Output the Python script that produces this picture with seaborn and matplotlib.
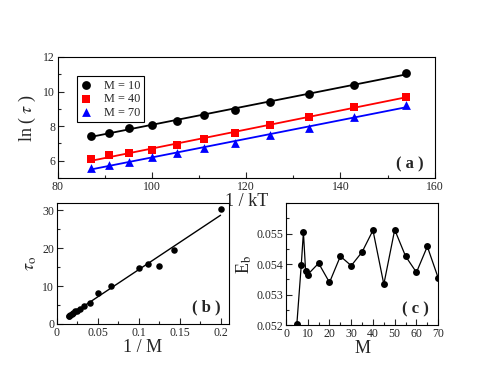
import numpy as np
import pandas as pd
import matplotlib
matplotlib.use('Agg')
import matplotlib.pyplot as plt
from matplotlib.ticker import MultipleLocator
import seaborn as sns

# Panel (a): ln(tau) vs 1/kT
inv_kT = [87.0, 90.9, 95.2, 100.0, 105.3, 111.1, 117.6, 125.0, 133.3, 142.9, 153.8]
ln_tau_m10 = [7.42, 7.62, 7.88, 8.08, 8.29, 8.63, 8.96, 9.42, 9.85, 10.37, 11.08]
ln_tau_m40 = [6.08, 6.31, 6.46, 6.63, 6.90, 7.23, 7.62, 8.08, 8.54, 9.10, 9.71]
ln_tau_m70 = [5.58, 5.77, 5.94, 6.21, 6.44, 6.73, 7.04, 7.46, 7.88, 8.54, 9.23]

# Panels (b) and (c)
M = [5, 7, 8, 9, 10, 15, 20, 25, 30, 35, 40, 45, 50, 55, 60, 65, 70]
tau0 = [30.4, 19.5, 15.4, 15.9, 14.9, 9.9, 8.3, 5.6, 4.7, 4.0, 3.5, 3.4,
        2.8, 2.5, 2.3, 2.2, 2.1]
E_b = [0.05205, 0.05396, 0.05505, 0.05379, 0.05366, 0.05403, 0.05340, 0.05426,
       0.05395, 0.05440, 0.05511, 0.05334, 0.05513, 0.05426, 0.05373, 0.05458,
       0.05355]

sns.set_style('ticks', {'xtick.direction': 'in', 'ytick.direction': 'in'})
plt.rcParams['font.family'] = ['Liberation Serif', 'DejaVu Serif']
plt.rcParams['mathtext.fontset'] = 'stix'
plt.rcParams['axes.linewidth'] = 0.8


def style_axis(ax):
    ax.tick_params(which='major', length=4, width=0.8, labelsize=8.5, pad=2)
    ax.tick_params(which='minor', length=2, width=0.8)
    for s in ax.spines.values():
        s.set_visible(True)
        s.set_color('black')


fig = plt.figure(figsize=(4.94, 3.82), dpi=100)

# (a)
ax_a = fig.add_axes([0.117, 0.534, 0.763, 0.317])
series = [(ln_tau_m10, 'black', 'o', 'M = 10'),
          (ln_tau_m40, 'red', 's', 'M = 40'),
          (ln_tau_m70, 'blue', '^', 'M = 70')]
for ys, col, mk, lab in series:
    sns.regplot(x=inv_kT, y=ys, ax=ax_a, ci=None, color=col, marker=mk,
                label=lab, scatter_kws={'s': 40, 'alpha': 1, 'linewidths': 0},
                line_kws={'lw': 1.3})
ax_a.set_xlim(80, 160)
ax_a.set_ylim(5, 12)
ax_a.xaxis.set_major_locator(MultipleLocator(20))
ax_a.xaxis.set_minor_locator(MultipleLocator(10))
ax_a.yaxis.set_major_locator(MultipleLocator(2))
ax_a.yaxis.set_minor_locator(MultipleLocator(1))
ax_a.set_xlabel('1 / kT', fontsize=13, labelpad=0)
ax_a.set_ylabel(r'ln ( $\tau$ )', fontsize=13, labelpad=4)
ax_a.text(0.97, 0.08, '( a )', transform=ax_a.transAxes, ha='right',
          fontsize=12, fontweight='bold')
handles, labels = ax_a.get_legend_handles_labels()
leg = ax_a.legend(handles[:3], labels[:3], loc='upper left',
                  bbox_to_anchor=(0.05, 0.843), borderaxespad=0, fontsize=8.8,
                  frameon=True, fancybox=False, edgecolor='black',
                  handletextpad=0.9, borderpad=0.3, labelspacing=0.12,
                  handlelength=1.0, framealpha=1)
leg.get_frame().set_linewidth(0.8)
style_axis(ax_a)

# (b)
ax_b = fig.add_axes([0.115, 0.152, 0.348, 0.317])
inv_M = [1.0 / m for m in M]
sns.regplot(x=inv_M, y=tau0, ax=ax_b, ci=None, color='black',
            scatter_kws={'s': 22, 'alpha': 1, 'linewidths': 0},
            line_kws={'lw': 1.0})
ax_b.set_xlim(0, 0.21)
ax_b.set_ylim(0, 32)
ax_b.xaxis.set_major_locator(MultipleLocator(0.05))
ax_b.xaxis.set_minor_locator(MultipleLocator(0.025))
ax_b.yaxis.set_major_locator(MultipleLocator(10))
ax_b.yaxis.set_minor_locator(MultipleLocator(5))
ax_b.set_xticks([0, 0.05, 0.1, 0.15, 0.2])
ax_b.set_xticklabels(['0', '0.05', '0.1', '0.15', '0.2'])
ax_b.set_xlabel('1 / M', fontsize=13, labelpad=0)
ax_b.set_ylabel(r'$\tau_{\rm o}$', fontsize=13, labelpad=2)
ax_b.text(0.95, 0.1, '( b )', transform=ax_b.transAxes, ha='right',
          fontsize=12, fontweight='bold')
style_axis(ax_b)

# (c)
ax_c = fig.add_axes([0.579, 0.149, 0.308, 0.319])
df_c = pd.DataFrame({'M': M, 'Eb': E_b})
sns.lineplot(data=df_c, x='M', y='Eb', ax=ax_c, color='black', lw=0.9,
             marker='o', markersize=5, markeredgewidth=0)
ax_c.set_xlim(0, 70)
ax_c.set_ylim(0.052, 0.056)
ax_c.xaxis.set_major_locator(MultipleLocator(10))
ax_c.xaxis.set_minor_locator(MultipleLocator(5))
ax_c.set_yticks([0.052, 0.053, 0.054, 0.055])
ax_c.yaxis.set_minor_locator(MultipleLocator(0.0005))
ax_c.set_xlabel('M', fontsize=13, labelpad=0)
ax_c.set_ylabel(r'E$_{\rm b}$', fontsize=13, labelpad=2)
ax_c.text(0.94, 0.1, '( c )', transform=ax_c.transAxes, ha='right',
          fontsize=12, fontweight='bold')
style_axis(ax_c)

fig.savefig('out.png', dpi=100)
